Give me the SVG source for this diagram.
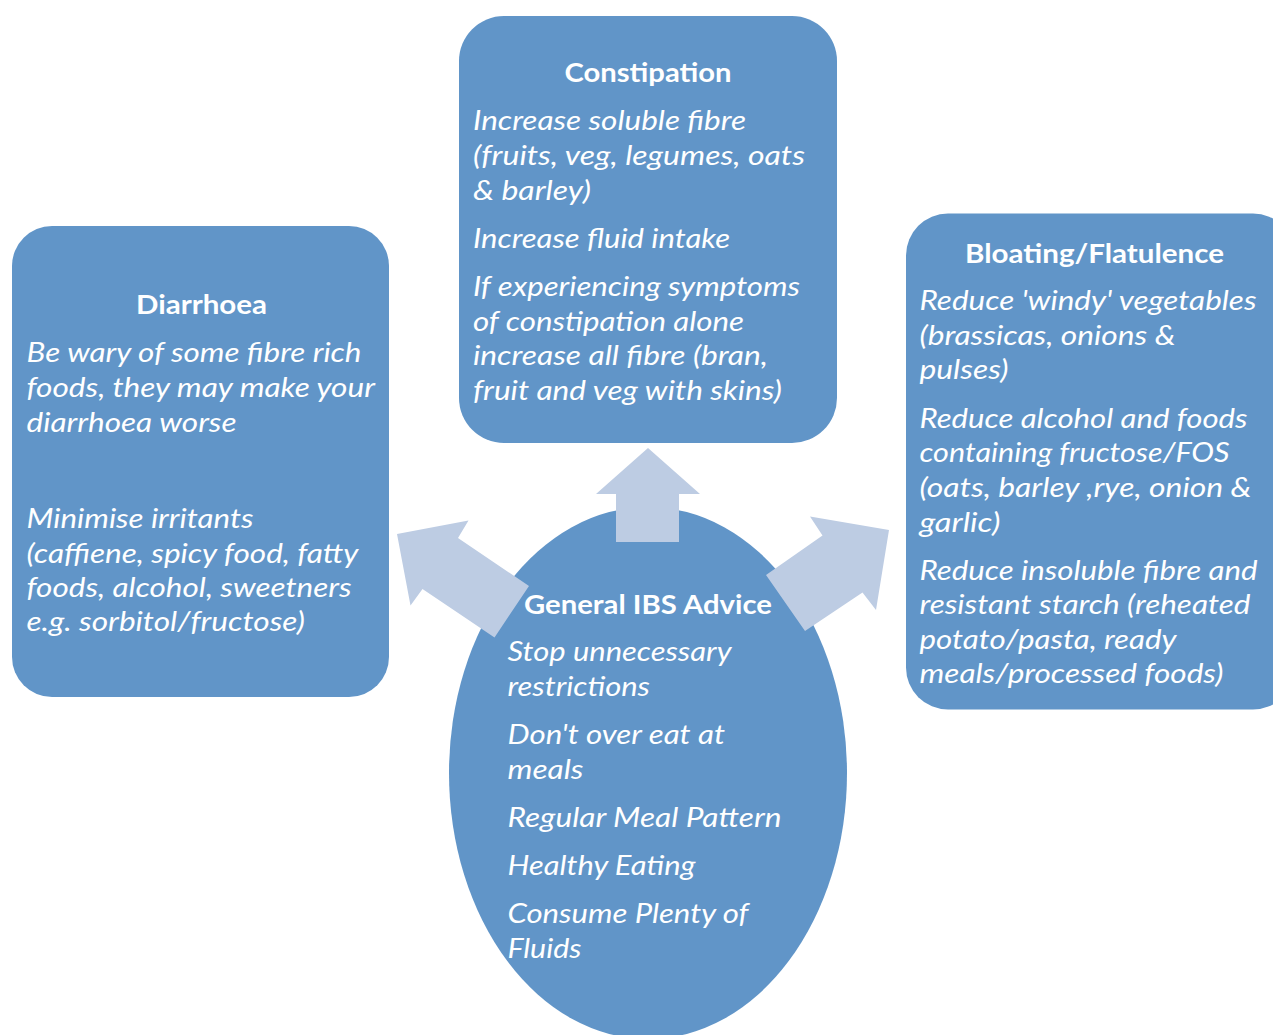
<svg xmlns="http://www.w3.org/2000/svg" width="1273" height="1035" viewBox="0 0 1273 1035">
<style>
.box{fill:#6195c8}
.arr{fill:#bdcce3}
text{fill:#ffffff;font-family:Lato,"Open Sans","Liberation Sans",sans-serif}
.t{font-weight:bold;font-size:27px;text-anchor:middle}
.b{font-style:italic;font-size:27px}
</style>
<rect width="1273" height="1035" fill="#ffffff"/>
<g id="constipation">
<rect class="box" x="459" y="16" width="378" height="427" rx="45" ry="45"/>
<text class="t" x="648" y="82" textLength="167" lengthAdjust="spacingAndGlyphs">Constipation</text>
<text class="b" x="473" y="129.5" textLength="273" lengthAdjust="spacingAndGlyphs">Increase soluble fibre</text>
<text class="b" x="473" y="164.5" textLength="332" lengthAdjust="spacingAndGlyphs">(fruits, veg, legumes, oats</text>
<text class="b" x="473" y="199.5" textLength="118" lengthAdjust="spacingAndGlyphs">&amp; barley)</text>
<text class="b" x="473" y="248" textLength="257" lengthAdjust="spacingAndGlyphs">Increase fluid intake</text>
<text class="b" x="473" y="296" textLength="327" lengthAdjust="spacingAndGlyphs">If experiencing symptoms</text>
<text class="b" x="473" y="330.5" textLength="271" lengthAdjust="spacingAndGlyphs">of constipation alone</text>
<text class="b" x="473" y="365" textLength="295" lengthAdjust="spacingAndGlyphs">increase all fibre (bran,</text>
<text class="b" x="473" y="400" textLength="309" lengthAdjust="spacingAndGlyphs">fruit and veg with skins)</text>
</g>
<g id="diarrhoea">
<rect class="box" x="12" y="226" width="377" height="471" rx="40" ry="40"/>
<text class="t" x="201.5" y="313.5" textLength="131" lengthAdjust="spacingAndGlyphs">Diarrhoea</text>
<text class="b" x="26.5" y="361.5" textLength="335" lengthAdjust="spacingAndGlyphs">Be wary of some fibre rich</text>
<text class="b" x="26.5" y="396.5" textLength="348.5" lengthAdjust="spacingAndGlyphs">foods, they may make your</text>
<text class="b" x="26.5" y="431.5" textLength="210" lengthAdjust="spacingAndGlyphs">diarrhoea worse</text>
<text class="b" x="26.5" y="527.5" textLength="227" lengthAdjust="spacingAndGlyphs">Minimise irritants</text>
<text class="b" x="26.5" y="562.5" textLength="332" lengthAdjust="spacingAndGlyphs">(caffiene, spicy food, fatty</text>
<text class="b" x="26.5" y="596.5" textLength="325" lengthAdjust="spacingAndGlyphs">foods, alcohol, sweetners</text>
<text class="b" x="26.5" y="631" textLength="278.5" lengthAdjust="spacingAndGlyphs">e.g. sorbitol/fructose)</text>
</g>
<g id="bloating">
<rect class="box" x="906" y="213.5" width="389" height="496" rx="42" ry="42"/>
<text class="t" x="1094.5" y="262.5" textLength="259" lengthAdjust="spacingAndGlyphs">Bloating/Flatulence</text>
<text class="b" x="919.5" y="310" textLength="337" lengthAdjust="spacingAndGlyphs">Reduce 'windy' vegetables</text>
<text class="b" x="919.5" y="344.7" textLength="256" lengthAdjust="spacingAndGlyphs">(brassicas, onions &amp;</text>
<text class="b" x="919.5" y="379.4" textLength="89" lengthAdjust="spacingAndGlyphs">pulses)</text>
<text class="b" x="919.5" y="427.7" textLength="328" lengthAdjust="spacingAndGlyphs">Reduce alcohol and foods</text>
<text class="b" x="919.5" y="462.4" textLength="310" lengthAdjust="spacingAndGlyphs">containing fructose/FOS</text>
<text class="b" x="919.5" y="497" textLength="332" lengthAdjust="spacingAndGlyphs">(oats, barley ,rye, onion &amp;</text>
<text class="b" x="919.5" y="531.8" textLength="81" lengthAdjust="spacingAndGlyphs">garlic)</text>
<text class="b" x="919.5" y="579.5" textLength="338" lengthAdjust="spacingAndGlyphs">Reduce insoluble fibre and</text>
<text class="b" x="919.5" y="614" textLength="331" lengthAdjust="spacingAndGlyphs">resistant starch (reheated</text>
<text class="b" x="919.5" y="648.5" textLength="257" lengthAdjust="spacingAndGlyphs">potato/pasta, ready</text>
<text class="b" x="919.5" y="683" textLength="304" lengthAdjust="spacingAndGlyphs">meals/processed foods)</text>
</g>
<g id="general">
<ellipse class="box" cx="648" cy="773" rx="199" ry="266"/>
</g>
<g id="connectors">
<polygon class="arr" points="648,448 700,494 679,494 679,542 616,542 616,494 596,494"/>
<polygon class="arr" points="397,534 468.5,520.5 458,538 529,586 494.5,637.5 422.5,589 410.5,605.5"/>
<polygon class="arr" points="889,530 876,610 862.5,592.5 805,631 766,575 822.5,535.5 810,516.5"/>
</g>
<g id="general-text">
<text class="t" x="648" y="613.5" textLength="248" lengthAdjust="spacingAndGlyphs">General IBS Advice</text>
<text class="b" x="507.5" y="661" textLength="224" lengthAdjust="spacingAndGlyphs">Stop unnecessary</text>
<text class="b" x="507.5" y="696" textLength="142.5" lengthAdjust="spacingAndGlyphs">restrictions</text>
<text class="b" x="507.5" y="744" textLength="217.5" lengthAdjust="spacingAndGlyphs">Don't over eat at</text>
<text class="b" x="507.5" y="778.5" textLength="76" lengthAdjust="spacingAndGlyphs">meals</text>
<text class="b" x="507.5" y="826.5" textLength="274" lengthAdjust="spacingAndGlyphs">Regular Meal Pattern</text>
<text class="b" x="507.5" y="875" textLength="188" lengthAdjust="spacingAndGlyphs">Healthy Eating</text>
<text class="b" x="507.5" y="923.3" textLength="241" lengthAdjust="spacingAndGlyphs">Consume Plenty of</text>
<text class="b" x="507.5" y="957.7" textLength="74" lengthAdjust="spacingAndGlyphs">Fluids</text>
</g>
</svg>
